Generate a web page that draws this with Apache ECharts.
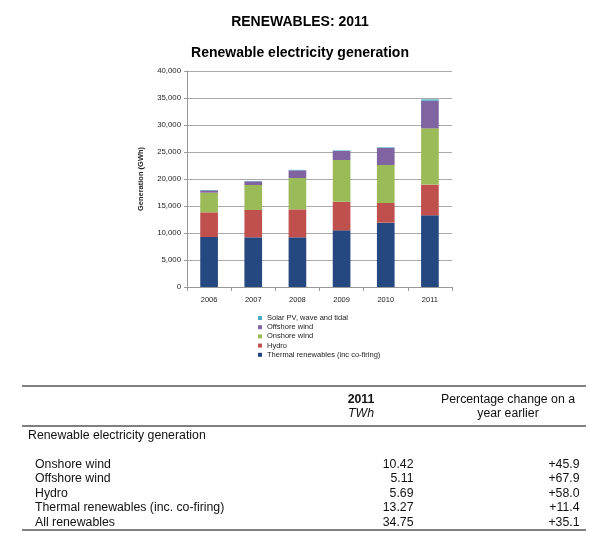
<!DOCTYPE html>
<html>
<head>
<meta charset="utf-8">
<script src="https://cdn.jsdelivr.net/npm/echarts@6/dist/echarts.min.js"></script>
<style>
html,body{margin:0;padding:0;background:#fff;}
#chart{width:600px;height:540px;}
</style>
</head>
<body>
<div id="chart"></div>
<script>
// ---- Chart data (GWh) ----
const years = ['2006', '2007', '2008', '2009', '2010', '2011'];
const thermal = [9260, 9200, 9200, 10490, 11910, 13270];
const hydro = [4570, 5060, 5180, 5310, 3650, 5690];
const onshore = [3640, 4630, 5810, 7720, 7030, 10420];
const offshore = [430, 680, 1410, 1670, 3150, 5110];
const solar = [60, 70, 90, 100, 120, 260];
const yTicks = [0, 5000, 10000, 15000, 20000, 25000, 30000, 35000, 40000];

// ---- Table data ----
const tableLabels = ['Onshore wind', 'Offshore wind', 'Hydro', 'Thermal renewables (inc. co-firing)', 'All renewables'];
const tableTWh = ['10.42', '5.11', '5.69', '13.27', '34.75'];
const tablePct = ['+45.9', '+67.9', '+58.0', '+11.4', '+35.1'];

const FONT = '"Liberation Sans", Arial, Helvetica, sans-serif';
const chart = echarts.init(document.getElementById('chart'), null, {renderer: 'canvas'});

const seriesDefs = [
  {name: 'Thermal renewables (inc co-firing)', data: thermal, color: '#24487F'},
  {name: 'Hydro', data: hydro, color: '#C0504D'},
  {name: 'Onshore wind', data: onshore, color: '#9BBB59'},
  {name: 'Offshore wind', data: offshore, color: '#8064A2'},
  {name: 'Solar PV, wave and tidal', data: solar, color: '#4BACC6'}
];

// table graphics
const graphics = [];
const lineStyle = {stroke: '#555', lineWidth: 1.5};
[386, 426, 530].forEach(y => {
  graphics.push({type: 'line', shape: {x1: 22, y1: y, x2: 586, y2: y}, style: lineStyle, silent: true});
});
function txt(x, y, s, align, extra) {
  graphics.push({type: 'text', x: x, y: y, style: Object.assign({
    text: s, fill: '#111', font: '12.3px ' + FONT, textAlign: align, textVerticalAlign: 'middle'
  }, extra || {})});
}
txt(361, 400, '2011', 'center', {font: 'bold 12.3px ' + FONT});
txt(361, 414, 'TWh', 'center', {font: 'italic 12.3px ' + FONT});
txt(508, 400, 'Percentage change on a', 'center');
txt(508, 414, 'year earlier', 'center');
txt(28, 435.5, 'Renewable electricity generation', 'left');
const rowY = [464.5, 479, 493.5, 508, 522.5];
tableLabels.forEach((s, i) => {
  txt(35, rowY[i], s, 'left');
  txt(413.5, rowY[i], tableTWh[i], 'right');
  txt(579.5, rowY[i], tablePct[i], 'right');
});

const option = {
  backgroundColor: '#fff',
  animation: false,
  textStyle: {fontFamily: FONT},
  title: [
    {text: 'RENEWABLES: 2011', left: 'center', top: 10,
     textStyle: {fontSize: 14, fontWeight: 'bold', color: '#000', fontFamily: FONT}},
    {text: 'Renewable electricity generation', left: 'center', top: 41,
     textStyle: {fontSize: 14, fontWeight: 'bold', color: '#000', fontFamily: FONT}}
  ],
  grid: {left: 187, right: 148, top: 71, bottom: 253, containLabel: false},
  legend: {
    orient: 'vertical', left: 253, top: 309,
    data: seriesDefs.slice().reverse().map(s => s.name),
    icon: 'rect', itemWidth: 4, itemHeight: 4, itemGap: 1.2,
    textStyle: {fontSize: 7.5, color: '#222', fontFamily: FONT, lineHeight: 8},
    selectedMode: false
  },
  xAxis: {
    type: 'category', data: years,
    axisLine: {lineStyle: {color: '#999'}},
    axisTick: {show: true, alignWithLabel: false, length: 4, lineStyle: {color: '#999'}},
    axisLabel: {fontSize: 7.5, color: '#222', margin: 9, fontFamily: FONT}
  },
  yAxis: {
    type: 'value', min: 0, max: 40000, interval: 5000,
    name: 'Generation (GWh)', nameLocation: 'middle', nameGap: 42, nameRotate: 90,
    nameTextStyle: {fontSize: 7.5, fontWeight: 'bold', color: '#222', fontFamily: FONT},
    axisLine: {show: true, lineStyle: {color: '#999'}},
    axisTick: {show: true, length: 3, lineStyle: {color: '#999'}},
    axisLabel: {fontSize: 7.8, color: '#222', margin: 6, fontFamily: FONT,
      formatter: v => yTicks.indexOf(v) >= 0 ? v.toLocaleString('en-US') : ''},
    splitLine: {lineStyle: {color: '#aaa', width: 1}}
  },
  series: seriesDefs.map(s => ({
    name: s.name, type: 'bar', stack: 'total', data: s.data,
    barWidth: '40%',
    itemStyle: {color: s.color},
    emphasis: {disabled: true}
  })),
  graphic: graphics
};
chart.setOption(option);
</script>
</body>
</html>
